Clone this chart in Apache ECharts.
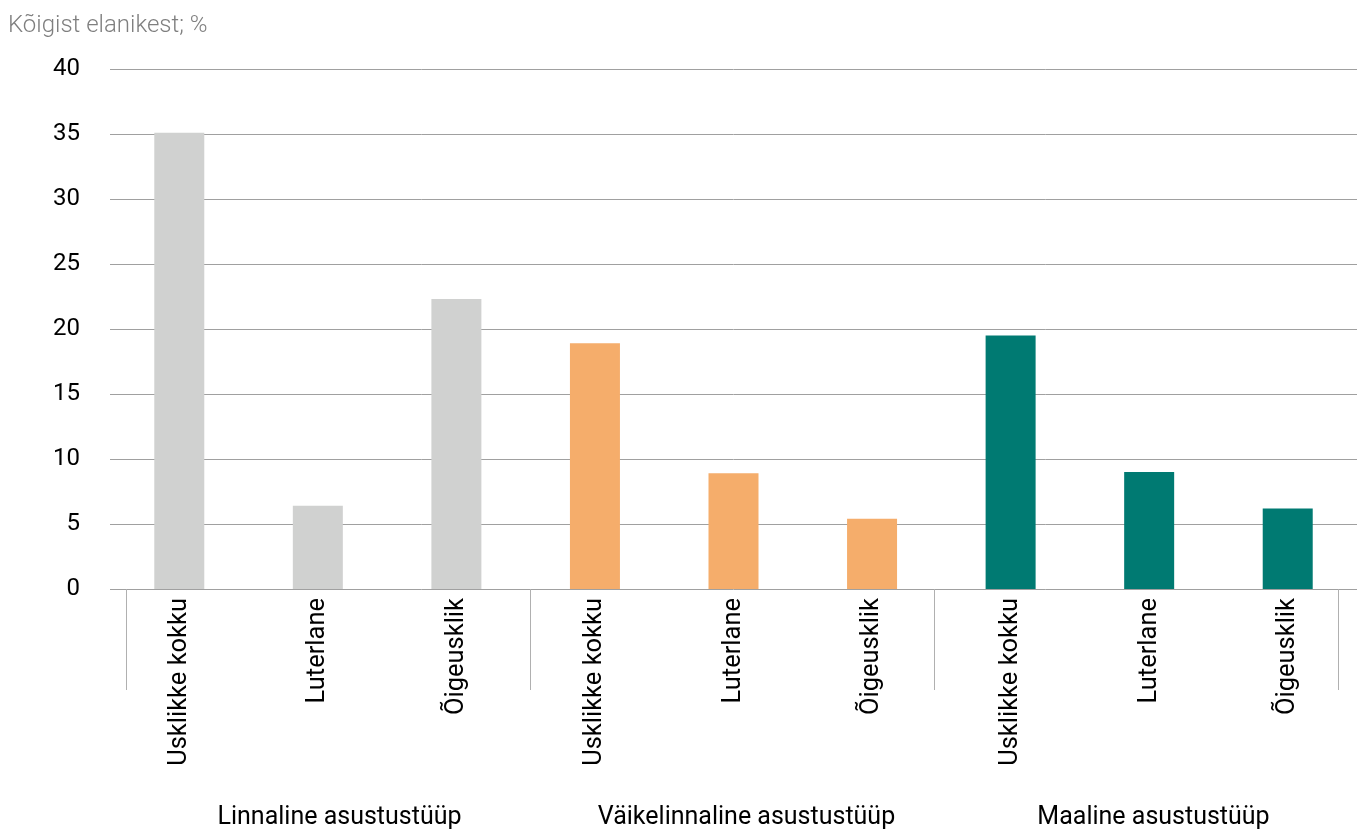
<!DOCTYPE html>
<html>
<head>
<meta charset="utf-8">
<script src="https://cdn.jsdelivr.net/npm/echarts@6/dist/echarts.min.js"></script>
<style>
html,body{margin:0;padding:0;background:#fff;}
#chart{width:1357px;height:830px;}
</style>
</head>
<body>
<div id="chart"></div>
<script>
const categories = ['Usklikke kokku','Luterlane','Õigeusklik','Usklikke kokku','Luterlane','Õigeusklik','Usklikke kokku','Luterlane','Õigeusklik'];
const groups = ['Linnaline asustustüüp','Väikelinnaline asustustüüp','Maaline asustustüüp'];
const values = [35.1, 6.4, 22.3, 18.9, 8.9, 5.4, 19.5, 9.0, 6.2];
const groupColors = ['#d0d1d0','#f5ad6b','#007a72'];
const yTitle = 'Kõigist elanikest; %';

const font = 'Roboto, "Noto Sans", sans-serif';
const chart = echarts.init(document.getElementById('chart'));
chart.setOption({
  animation: false,
  title: {
    text: yTitle, left: 3, top: 9,
    textStyle: {fontFamily: font, fontWeight: 300, fontSize: 24, color: '#7f7f7f'}
  },
  grid: [
    {left: 110, right: 0, top: 69, bottom: 241},
    {left: 126, right: 19, top: 69, bottom: 241},
    {left: 136, width: 1236, top: 69, bottom: 241}
  ],
  xAxis: [
    {
      type: 'category', gridIndex: 0, data: categories,
      axisLine: {show: false}, axisTick: {show: false},
      axisLabel: {rotate: 90, margin: 9, fontFamily: font, fontSize: 25.5, color: '#000', interval: 0}
    },
    {
      type: 'category', gridIndex: 1, data: groups,
      axisLine: {show: false},
      axisTick: {show: true, length: 101, lineStyle: {color: '#b0b0b0', width: 1}},
      axisLabel: {show: false}
    },
    {
      type: 'category', gridIndex: 2, data: groups,
      axisLine: {show: false}, axisTick: {show: false},
      axisLabel: {margin: 217, fontFamily: font, fontSize: 25, color: '#000', interval: 0}
    }
  ],
  yAxis: [
    {
      type: 'value', gridIndex: 0, min: 0, max: 40, interval: 5,
      axisLine: {show: false}, axisTick: {show: false},
      axisLabel: {margin: 30, fontFamily: font, fontSize: 24, color: '#000'},
      splitLine: {lineStyle: {color: '#a0a0a0', width: 1}}
    },
    {type: 'value', gridIndex: 1, min: 0, max: 40, show: false},
    {type: 'value', gridIndex: 2, min: 0, max: 40, show: false}
  ],
  series: [{
    type: 'bar', xAxisIndex: 0, yAxisIndex: 0, barWidth: 50,
    data: values.map((v, i) => ({value: v, itemStyle: {color: groupColors[Math.floor(i / 3)]}}))
  }]
});
</script>
</body>
</html>
